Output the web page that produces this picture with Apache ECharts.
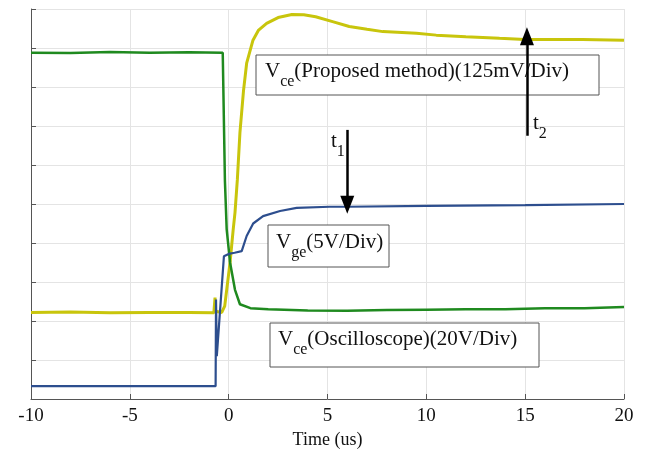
<!DOCTYPE html>
<html><head><meta charset="utf-8">
<script src="https://cdn.jsdelivr.net/npm/echarts@6/dist/echarts.min.js"></script>
<style>html,body{margin:0;padding:0;background:#fff}#c{width:646px;height:454px}</style>
</head><body><div id="c"></div>
<script>
// X axis ticks (us)
var xTicks = [-10, -5, 0, 5, 10, 15, 20];
// Vce measured by the proposed method (divisions)
var vceProposed = [[-10,2.22],[-8,2.23],[-6,2.21],[-4,2.22],[-2,2.22],[-0.75,2.21],[-0.69,2.6],[-0.66,2.25],[-0.35,2.22],[-0.2,2.38],[0.07,3.5],[0.23,4.35],[0.32,4.78],[0.44,5.63],[0.57,6.83],[0.75,7.9],[0.91,8.61],[1.23,9.2],[1.5,9.45],[1.92,9.63],[2.5,9.78],[3.2,9.86],[3.8,9.85],[4.4,9.8],[5.3,9.67],[6.1,9.55],[7,9.48],[7.8,9.42],[9.5,9.38],[10.5,9.33],[12,9.29],[13.7,9.25],[15,9.22],[17.9,9.22],[20,9.2]];
// Vce measured by the oscilloscope (divisions)
var vceScope = [[-10,8.88],[-8,8.87],[-6,8.9],[-4,8.88],[-2,8.89],[-0.3,8.88],[-0.22,8.93],[-0.19,5.6],[-0.1,4.35],[0.07,3.5],[0.32,2.8],[0.57,2.43],[1.1,2.33],[2,2.3],[4,2.27],[6,2.26],[8,2.28],[10,2.29],[12,2.3],[14,2.3],[16,2.33],[18,2.33],[20,2.36]];
// Vge (divisions)
var vge = [[-10,0.33],[-5,0.33],[-0.66,0.33],[-0.64,2.55],[-0.6,1.1],[-0.24,3.66],[0,3.72],[0.3,3.75],[0.66,3.79],[0.91,4.18],[1.24,4.5],[1.74,4.69],[2.6,4.82],[3.44,4.9],[5.1,4.93],[6,4.93],[10,4.95],[15,4.97],[20,5.0]];
// annotation arrows [t, fromValue, toValue]
var arrowT1 = [6.0, 6.9, 4.98];
var arrowT2 = [15.09, 6.75, 9.3];

var serif = 'Liberation Serif, Times New Roman, serif';
var chart = echarts.init(document.getElementById('c'), null, {renderer:'canvas'});

function richLabel(main, sub, rest) {
  return '{n|' + main + '}{s|' + sub + '}{n|' + rest + '}';
}
var richStyle = {
  n: {fontSize: 21, fontFamily: serif, lineHeight: 25, verticalAlign: 'top', fill: '#111'},
  s: {fontSize: 16, fontFamily: serif, lineHeight: 17, padding: [13, 0, 0, 0], verticalAlign: 'top', fill: '#111'}
};
function box(x, y, w, h, tx, ty, main, sub, rest) {
  return {
    type: 'group', z: 1,
    children: [
      {type: 'rect', z: 1, shape: {x: x, y: y, width: w, height: h}, style: {fill: '#fff', stroke: '#555', lineWidth: 1}},
      {type: 'text', z: 1, x: tx, y: ty, style: {text: richLabel(main, sub, rest), rich: richStyle, verticalAlign: 'top', align: 'left'}}
    ]
  };
}

var arrowLineStyle = {color: '#000', width: 2.5, type: 'solid'};
chart.setOption({
  backgroundColor: '#fff',
  animation: false,
  grid: {left: 31, right: 22, top: 9, bottom: 54},
  xAxis: {
    type: 'value', min: xTicks[0], max: xTicks[xTicks.length - 1], interval: 5,
    name: 'Time (us)', nameLocation: 'middle', nameGap: 32,
    nameTextStyle: {fontFamily: serif, fontSize: 18, color: '#111'},
    axisLine: {show: true, onZero: false, lineStyle: {color: '#555', width: 1}},
    axisTick: {show: true, inside: true, length: 5, lineStyle: {color: '#555'}},
    axisLabel: {fontFamily: serif, fontSize: 19, color: '#111', margin: 8},
    splitLine: {show: true, lineStyle: {color: '#e4e4e4', width: 1}}
  },
  yAxis: {
    type: 'value', min: 0, max: 10, interval: 1,
    axisLine: {show: true, onZero: false, lineStyle: {color: '#555', width: 1}},
    axisTick: {show: true, inside: true, length: 5, lineStyle: {color: '#555'}},
    axisLabel: {show: false},
    splitLine: {show: true, lineStyle: {color: '#e4e4e4', width: 1}}
  },
  series: [
    {type: 'line', name: 'Vce proposed', data: vceProposed, showSymbol: false, z: 2,
     lineStyle: {color: '#c8c50c', width: 3}, itemStyle: {color: '#c8c50c'}},
    {type: 'line', name: 'Vce scope', data: vceScope, showSymbol: false, z: 3,
     lineStyle: {color: '#1f8a1f', width: 2.5}, itemStyle: {color: '#1f8a1f'}},
    {type: 'line', name: 'Vge', data: vge, showSymbol: false, z: 4,
     lineStyle: {color: '#2d4e8e', width: 2.2}, itemStyle: {color: '#2d4e8e'},
     markLine: {
       silent: true, symbol: ['none', 'triangle'], symbolSize: [14, 18], z: 5,
       label: {show: false}, lineStyle: arrowLineStyle,
       data: [
         [{coord: [arrowT1[0], arrowT1[1]], lineStyle: arrowLineStyle, itemStyle: {color: '#000'}}, {coord: [arrowT1[0], arrowT1[2]]}],
         [{coord: [arrowT2[0], arrowT2[1]], lineStyle: arrowLineStyle, itemStyle: {color: '#000'}}, {coord: [arrowT2[0], arrowT2[2]]}]
       ]
     }}
  ],
  graphic: [
    box(256, 55, 343, 40, 265, 61, 'V', 'ce', '(Proposed method)(125mV/Div)'),
    box(268, 225, 121, 42, 276, 232, 'V', 'ge', '(5V/Div)'),
    box(270, 323, 269, 44, 278, 329, 'V', 'ce', '(Oscilloscope)(20V/Div)'),
    {type: 'text', z: 6, x: 331, y: 131, style: {text: richLabel('t', '1', ''), rich: richStyle, verticalAlign: 'top'}},
    {type: 'text', z: 6, x: 533, y: 113, style: {text: richLabel('t', '2', ''), rich: richStyle, verticalAlign: 'top'}}
  ]
});
</script></body></html>
